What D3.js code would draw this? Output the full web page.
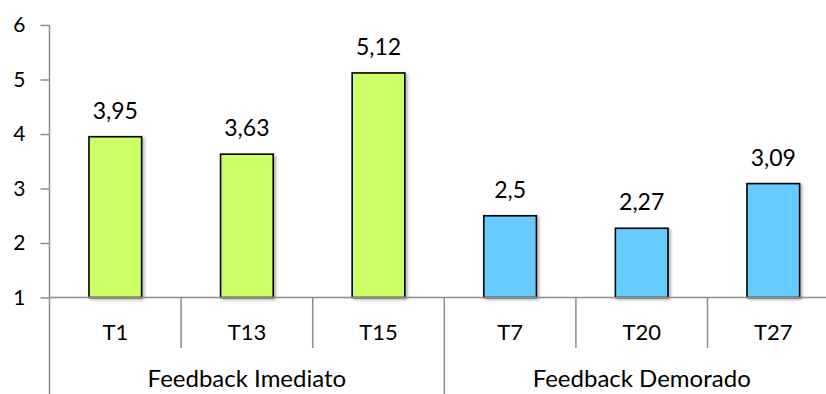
<!DOCTYPE html>
<html>
<head>
<meta charset="utf-8">
<script src="https://cdn.jsdelivr.net/npm/d3@7"></script>
<style>
  html, body { margin: 0; padding: 0; background: #fff; overflow: hidden; }
  svg { display: block; font-family: Lato, "Open Sans", sans-serif; }
</style>
</head>
<body>
<svg id="chart" width="826" height="394"></svg>
<script>
// Scores per test, grouped by feedback type
const categories = ["T1", "T13", "T15", "T7", "T20", "T27"];
const values = [3.95, 3.63, 5.12, 2.5, 2.27, 3.09];
const groupNames = ["Feedback Imediato", "Feedback Demorado"];
const groupOf = [0, 0, 0, 1, 1, 1];
const yTicks = [1, 2, 3, 4, 5, 6];
const groupColors = ["#CCFF66", "#66CCFF"];

const svg = d3.select("#chart");
const axisColor = "#8c8c8c";

const x0 = 49.5, bandW = 131.6;
const x = d3.scaleBand().domain(categories).range([x0, x0 + bandW * categories.length]).padding(0);
const y = d3.scaleLinear().domain([1, 6]).range([297.5, 25]);

const fmt = v => String(v).replace(".", ",");

// soft shadow behind the bars
const defs = svg.append("defs");
const f = defs.append("filter").attr("id", "shadow").attr("x", "-20%").attr("y", "-20%").attr("width", "150%").attr("height", "150%");
f.append("feDropShadow").attr("dx", 2).attr("dy", 1.5).attr("stdDeviation", 1.5)
  .attr("flood-color", "#000").attr("flood-opacity", 0.3);

// y axis
const yAxis = d3.axisLeft(y).tickValues(yTicks).tickSize(9).tickPadding(15).tickFormat(d3.format("d"));
const gy = svg.append("g").attr("transform", `translate(${x0},0)`).call(yAxis);
gy.select(".domain").remove();
gy.selectAll(".tick line").attr("stroke", axisColor).attr("stroke-width", 1.5);
gy.selectAll(".tick text").attr("fill", "#000").style("font-size", "21px").style("font-family", "Lato, sans-serif");
svg.append("line").attr("x1", x0).attr("x2", x0).attr("y1", y(6)).attr("y2", 394)
  .attr("stroke", axisColor).attr("stroke-width", 1.5);

// bars
const barW = x.bandwidth() * 0.4;
svg.append("g").selectAll("rect").data(categories).join("rect")
  .attr("x", d => x(d) + (x.bandwidth() - barW) / 2)
  .attr("y", (d, i) => y(values[i]))
  .attr("width", barW)
  .attr("height", (d, i) => y(1) - y(values[i]))
  .attr("fill", (d, i) => groupColors[groupOf[i]])
  .attr("stroke", "#000").attr("stroke-width", 1.6)
  .attr("filter", "url(#shadow)");

// value labels
svg.append("g").selectAll("text").data(categories).join("text")
  .attr("x", d => x(d) + x.bandwidth() / 2)
  .attr("y", (d, i) => y(values[i]) - 18)
  .attr("text-anchor", "middle")
  .style("font-size", "23px")
  .text((d, i) => fmt(values[i]));

// x axis baseline
svg.append("line").attr("x1", x0).attr("x2", x0 + bandW * categories.length).attr("y1", y(1)).attr("y2", y(1))
  .attr("stroke", axisColor).attr("stroke-width", 1.5);

// category separators and labels
categories.forEach((c, i) => {
  if (i > 0) {
    const isGroupEdge = groupOf[i] !== groupOf[i - 1];
    svg.append("line").attr("x1", x(c)).attr("x2", x(c))
      .attr("y1", y(1)).attr("y2", isGroupEdge ? 394 : 348)
      .attr("stroke", axisColor).attr("stroke-width", 1.5);
  }
  svg.append("text").attr("x", x(c) + x.bandwidth() / 2).attr("y", 339.5)
    .attr("text-anchor", "middle").style("font-size", "22px").text(c);
});

// group labels
groupNames.forEach((g, gi) => {
  const members = categories.filter((c, i) => groupOf[i] === gi);
  const left = x(members[0]);
  const right = x(members[members.length - 1]) + x.bandwidth();
  svg.append("text").attr("x", (left + right) / 2).attr("y", 387)
    .attr("text-anchor", "middle").style("font-size", "24px").text(g);
});
</script>
</body>
</html>
